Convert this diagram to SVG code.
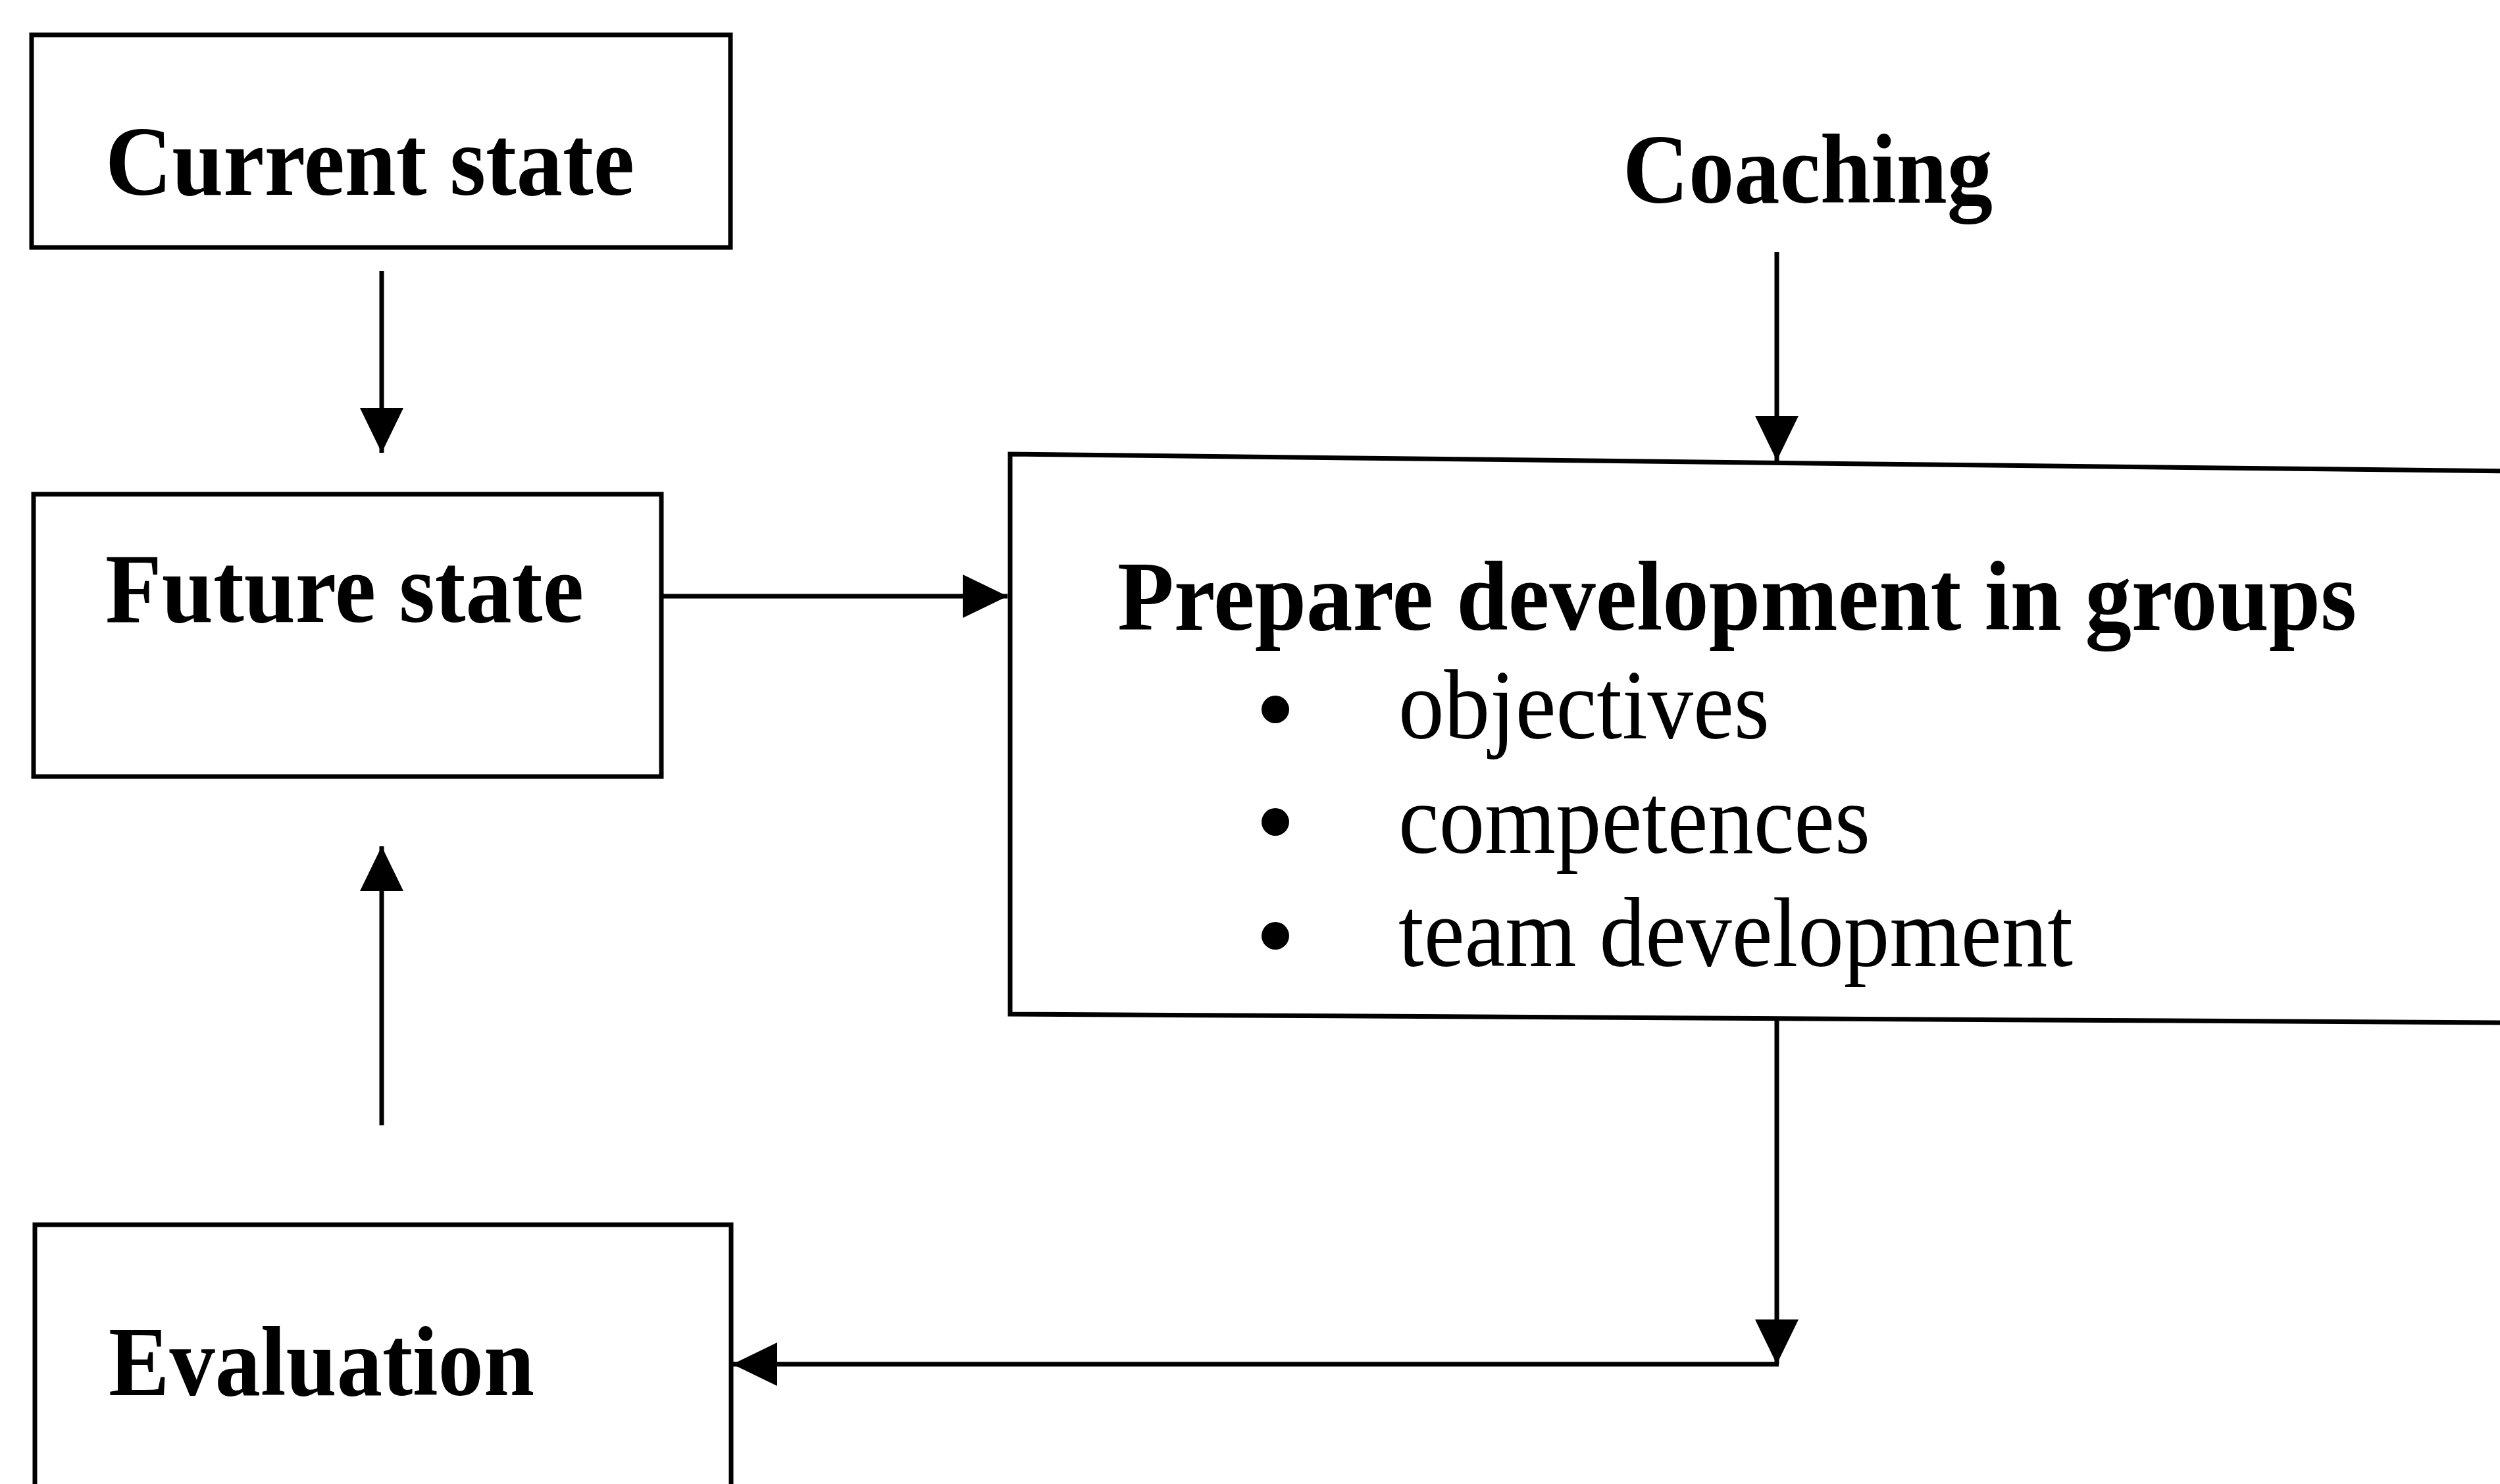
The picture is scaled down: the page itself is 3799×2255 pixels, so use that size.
<svg xmlns="http://www.w3.org/2000/svg" width="3799" height="2255" viewBox="0 0 3799 2255">
  <style>
    .box { fill: none; stroke: #000; stroke-width: 7; }
    .edge { fill: none; stroke: #000; stroke-width: 7; }
    .title { font-family: "Liberation Serif", "Times New Roman", serif; font-weight: bold; font-size: 150px; fill: #000; }
    .item { font-family: "Liberation Serif", "Times New Roman", serif; font-size: 150px; fill: #000; }
  </style>
  <defs>
    <marker id="arrow" viewBox="0 0 68 66" refX="68" refY="33" markerWidth="68" markerHeight="66" markerUnits="userSpaceOnUse" orient="auto">
      <path d="M0,0 L68,33 L0,66 Z" fill="#000"/>
    </marker>
  </defs>
  <rect width="3799" height="2255" fill="#fff"/>

  <g id="current-state">
    <rect class="box" x="48" y="53" width="1062" height="323"/>
    <text class="title" x="160" y="296" textLength="804" lengthAdjust="spacingAndGlyphs">Current state</text>
  </g>

  <g id="future-state">
    <rect class="box" x="51" y="751" width="954" height="429"/>
    <text class="title" x="160" y="945" textLength="727" lengthAdjust="spacingAndGlyphs">Future state</text>
  </g>

  <g id="coaching">
    <text class="title" x="2466" y="308" textLength="562" lengthAdjust="spacingAndGlyphs">Coaching</text>
  </g>

  <g id="prepare-development">
    <path class="box" d="M3810,716 L1535,690 L1535,1541 L3810,1554"/>
    <text class="title" x="1698" y="957" textLength="1883" lengthAdjust="spacingAndGlyphs">Prepare development in groups</text>
    <circle cx="1938" cy="1078" r="21" fill="#000"/>
    <circle cx="1938" cy="1249" r="21" fill="#000"/>
    <circle cx="1938" cy="1422" r="21" fill="#000"/>
    <text class="item" x="2125" y="1122" textLength="564" lengthAdjust="spacingAndGlyphs">objectives</text>
    <text class="item" x="2125" y="1296" textLength="717" lengthAdjust="spacingAndGlyphs">competences</text>
    <text class="item" x="2125" y="1468" textLength="1025" lengthAdjust="spacingAndGlyphs">team development</text>
  </g>

  <g id="evaluation">
    <rect class="box" x="53" y="1861" width="1058" height="500"/>
    <text class="title" x="165" y="2120" textLength="647" lengthAdjust="spacingAndGlyphs">Evaluation</text>
  </g>

  <g id="connectors">
    <path class="edge" d="M580,412 L580,688" marker-end="url(#arrow)"/>
    <path class="edge" d="M1005,906 L1531,906" marker-end="url(#arrow)"/>
    <path class="edge" d="M580,1710 L580,1286" marker-end="url(#arrow)"/>
    <path class="edge" d="M2700,383 L2700,700" marker-end="url(#arrow)"/>
    <path class="edge" d="M2700,1547 L2700,2073" marker-end="url(#arrow)"/>
    <path class="edge" d="M2703,2073 L1113,2073" marker-end="url(#arrow)"/>
  </g>
</svg>
